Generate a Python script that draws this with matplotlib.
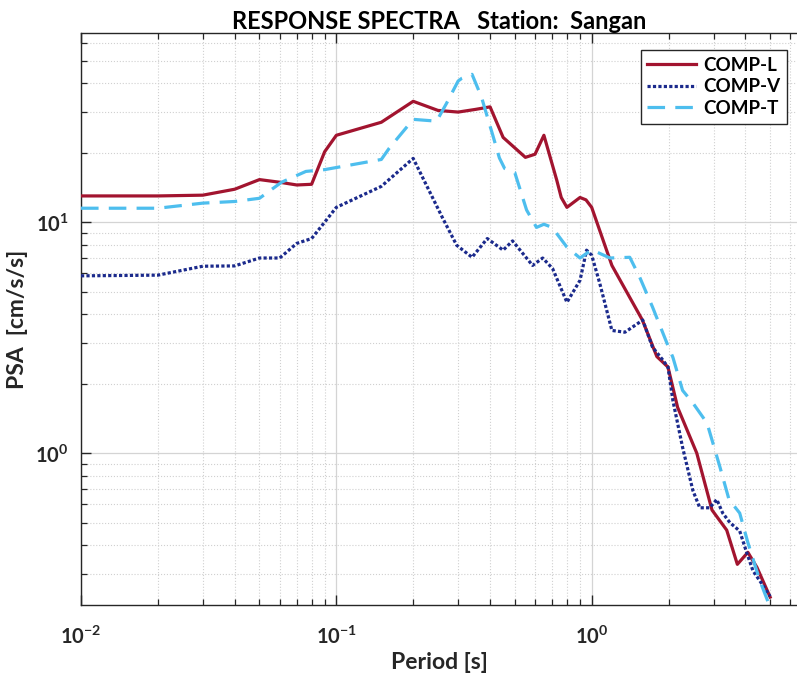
import matplotlib
matplotlib.use("Agg")
import matplotlib.pyplot as plt
from matplotlib.ticker import LogLocator, NullFormatter, FuncFormatter
import numpy as np

plt.rcParams['font.family'] = ['Lato', 'DejaVu Sans']
plt.rcParams['mathtext.fontset'] = 'custom'
plt.rcParams['mathtext.rm'] = 'Lato:bold'
plt.rcParams['mathtext.bf'] = 'Lato:bold'
plt.rcParams['mathtext.it'] = 'Lato:bold'

# ---- data ----
period_L = [0.01, 0.02, 0.03, 0.04, 0.05, 0.06, 0.07, 0.08, 0.09, 0.1, 0.15, 0.2,
            0.25, 0.3, 0.35, 0.4, 0.45, 0.55, 0.6, 0.65, 0.73, 0.76, 0.8, 0.9, 0.95,
            1.0, 1.2, 1.58, 1.8, 1.99, 2.17, 2.58, 2.96, 3.38, 3.72, 4.09, 4.44, 5.0]
psa_L = [13.0, 13.0, 13.1, 13.9, 15.3, 14.9, 14.5, 14.6, 20.2, 23.8, 27.1, 33.4,
         30.5, 30.0, 30.8, 31.6, 23.3, 19.1, 19.7, 23.8, 15.2, 12.8, 11.6, 12.8, 12.5,
         11.6, 6.5, 3.77, 2.62, 2.36, 1.58, 1.0, 0.567, 0.464, 0.33, 0.372, 0.32, 0.238]

period_V = [0.01, 0.02, 0.03, 0.04, 0.05, 0.06, 0.07, 0.08, 0.088, 0.1, 0.15, 0.2,
            0.26, 0.296, 0.34, 0.39, 0.45, 0.49, 0.587, 0.643, 0.703, 0.8, 0.9, 0.955,
            1.0, 1.075, 1.2, 1.35, 1.585, 1.73, 1.9, 1.99, 2.08, 2.27, 2.49, 2.65, 2.9,
            3.09, 3.26, 3.48, 3.8, 4.05, 4.28, 5.0]
psa_V = [5.86, 5.9, 6.45, 6.47, 7.0, 7.0, 8.1, 8.5, 9.7, 11.6, 14.3, 18.9,
         10.5, 7.95, 7.05, 8.5, 7.57, 8.3, 6.5, 7.0, 6.3, 4.5, 5.6, 7.57,
         7.2, 5.45, 3.4, 3.34, 3.77, 2.88, 2.53, 2.36, 1.69, 1.06, 0.69, 0.58, 0.58,
         0.63, 0.55, 0.5, 0.46, 0.37, 0.31, 0.24]

period_T = [0.01, 0.02, 0.03, 0.04, 0.05, 0.061, 0.076, 0.09, 0.15, 0.161, 0.2, 0.247,
            0.27, 0.3, 0.31, 0.34, 0.37, 0.41, 0.435, 0.456, 0.5, 0.556, 0.608, 0.65,
            0.7, 0.8, 0.9, 1.0, 1.18, 1.41, 1.54, 1.73, 1.97, 2.08, 2.27, 2.49, 2.83,
            3.18, 3.45, 3.8, 4.09, 4.56, 5.0]
psa_T = [11.5, 11.5, 12.1, 12.3, 12.7, 14.9, 16.6, 16.9, 18.7, 20.9, 27.9, 27.4,
         32.7, 40.9, 42.0, 43.7, 34.9, 23.8, 19.0, 17.1, 16.4, 11.3, 9.5, 9.8,
         9.5, 7.8, 7.0, 7.6, 7.0, 7.05, 5.8, 4.3, 3.0, 2.6, 1.87, 1.65, 1.35,
         0.87, 0.63, 0.55, 0.41, 0.28, 0.215]

labels = ['COMP-L', 'COMP-V', 'COMP-T']
title = 'RESPONSE SPECTRA   Station:  Sangan'
xlabel = 'Period [s]'
ylabel = 'PSA  [cm/s/s]'

# ---- plot ----
fig = plt.figure(figsize=(7.97, 6.73), dpi=100)
ax = fig.add_axes([81/797, (673-605)/673, 716/797, (605-33)/673])

ax.plot(period_L, psa_L, color='#A2142F', lw=2.3, ls='-', label=labels[0], zorder=3)
ax.plot(period_V, psa_V, color='#1B2A8C', lw=2.3, ls=(0, (1, 0.7)), label=labels[1], zorder=3)
ax.plot(period_T, psa_T, color='#4DBEEE', lw=2.3, ls=(0, (5.5, 3.2)), label=labels[2], zorder=3)

ax.set_xscale('log')
ax.set_yscale('log')
ax.set_xlim(0.01, 6.37)
ax.set_ylim(0.22, 66)

def pow_fmt(v, pos):
    e = int(round(np.log10(v)))
    return r'$\mathbf{10^{%d}}$' % e

ax.xaxis.set_major_locator(LogLocator(base=10, numticks=10))
ax.xaxis.set_minor_locator(LogLocator(base=10, subs=range(2, 10), numticks=20))
ax.yaxis.set_major_locator(LogLocator(base=10, numticks=10))
ax.yaxis.set_minor_locator(LogLocator(base=10, subs=range(2, 10), numticks=20))
ax.xaxis.set_major_formatter(FuncFormatter(pow_fmt))
ax.yaxis.set_major_formatter(FuncFormatter(pow_fmt))
ax.xaxis.set_minor_formatter(NullFormatter())
ax.yaxis.set_minor_formatter(NullFormatter())

ax.grid(True, which='major', color='#d4d4d4', lw=0.9, ls='-')
ax.grid(True, which='minor', color='#d0d0d0', lw=0.8, ls=':')
ax.set_axisbelow(True)

ax.tick_params(which='both', direction='in', top=True, right=False, colors='#262626')
ax.tick_params(which='major', length=7, width=1.0, labelsize=14.5)
ax.tick_params(axis='x', which='major', pad=14)
ax.tick_params(axis='y', which='major', pad=9)
ax.tick_params(which='minor', length=4, width=0.9)

for s in ['left', 'bottom', 'top']:
    ax.spines[s].set_color('#262626')
    ax.spines[s].set_linewidth(1.0)
ax.spines['right'].set_visible(False)

ax.set_xlabel(xlabel, fontsize=16.5, fontweight='bold', color='#262626', labelpad=4)
ax.set_ylabel(ylabel, fontsize=16.5, fontweight='bold', color='#262626', labelpad=5)
ax.set_title(title, fontsize=17, fontweight='bold', color='black', pad=3)

leg = ax.legend(loc='upper right', bbox_to_anchor=((787-81)/716, (605-50)/572),
                bbox_transform=ax.transAxes, frameon=True, fancybox=False,
                edgecolor='#262626', framealpha=1, borderpad=0.35, labelspacing=0.25,
                handlelength=2.6, handletextpad=0.4, borderaxespad=0,
                prop={'weight': 'bold', 'size': 13.5})
leg.get_frame().set_linewidth(1.0)

fig.savefig('out.png', dpi=100)
